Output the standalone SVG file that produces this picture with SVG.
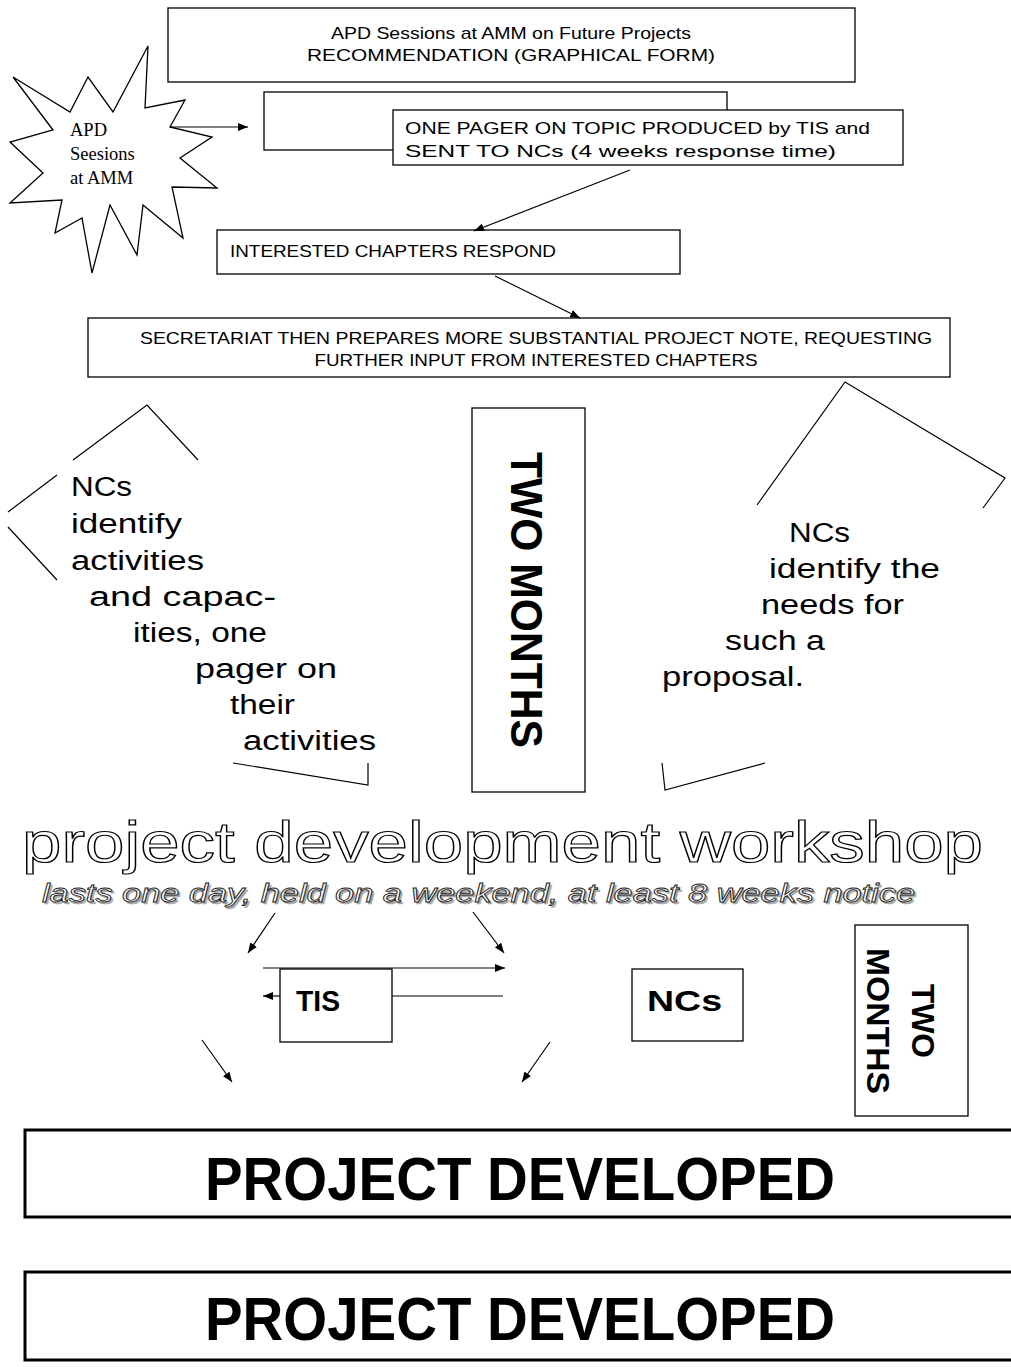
<svg xmlns="http://www.w3.org/2000/svg" width="1011" height="1367" viewBox="0 0 1011 1367">
<style>
.box{fill:#fff;stroke:#000;stroke-width:1.3}
.thick{fill:#fff;stroke:#000;stroke-width:3}
.t{font-family:"Liberation Sans",Arial,sans-serif;fill:#000}
.ln{fill:none;stroke:#000;stroke-width:1.2}
.con{fill:none;stroke:#000;stroke-width:1.2}
.b{font-family:"Liberation Sans",Arial,sans-serif;font-weight:bold;fill:#000}
</style>
<defs>
<marker id="ah" viewBox="0 0 10 8" refX="10" refY="4" markerWidth="10" markerHeight="8" markerUnits="userSpaceOnUse" orient="auto">
<path d="M0,0 L10,4 L0,8 z" fill="#000"/>
</marker>
</defs>
<rect width="1011" height="1367" fill="#fff"/>

<g id="title">
<rect class="box" x="168" y="8" width="687" height="74"/>
<text class="t" x="511" y="39" font-size="17" text-anchor="middle" textLength="360" lengthAdjust="spacingAndGlyphs">APD Sessions at AMM on Future Projects</text>
<text class="t" x="511" y="61" font-size="17" text-anchor="middle" textLength="408" lengthAdjust="spacingAndGlyphs">RECOMMENDATION (GRAPHICAL FORM)</text>
</g>

<g id="star">
<polygon class="box" points="13,77 70,112 88,77 113,112 148,46 145,108 185,100 170,127 212,137 180,158 217,188 172,187 183,238 143,205 137,255 110,205 92,273 82,218 55,233 62,200 10,203 43,173 10,142 53,130"/>
<text font-family="'Liberation Serif','Times New Roman',serif" font-size="18.5" fill="#000">
<tspan x="70" y="136">APD</tspan>
<tspan x="70" y="160">Seesions</tspan>
<tspan x="70" y="184">at AMM</tspan>
</text>
</g>

<g id="box2">
<rect class="box" x="264" y="92" width="463" height="58"/>
</g>

<g id="onepager">
<rect class="box" x="393" y="110" width="510" height="55"/>
<text class="t" x="405" y="134" font-size="17" textLength="465" lengthAdjust="spacingAndGlyphs">ONE PAGER ON TOPIC PRODUCED by TIS and</text>
<text class="t" x="405" y="157" font-size="17" textLength="431" lengthAdjust="spacingAndGlyphs">SENT TO NCs (4 weeks response time)</text>
</g>

<g id="interested">
<rect class="box" x="217" y="230" width="463" height="44"/>
<text class="t" x="230" y="257" font-size="17" textLength="326" lengthAdjust="spacingAndGlyphs">INTERESTED CHAPTERS RESPOND</text>
</g>

<g id="secretariat">
<rect class="box" x="88" y="318" width="862" height="59"/>
<text class="t" x="536" y="344" font-size="17" text-anchor="middle" textLength="792" lengthAdjust="spacingAndGlyphs">SECRETARIAT THEN PREPARES MORE SUBSTANTIAL PROJECT NOTE, REQUESTING</text>
<text class="t" x="536" y="366" font-size="17" text-anchor="middle" textLength="443" lengthAdjust="spacingAndGlyphs">FURTHER INPUT FROM INTERESTED CHAPTERS</text>
</g>

<g id="left-note">
<polyline class="ln" points="73,460 147,405 198,460"/>
<line class="ln" x1="57" y1="475" x2="8" y2="512"/>
<line class="ln" x1="8" y1="527" x2="57" y2="580"/>
<polyline class="ln" points="233,763 368,785 368,763"/>
<g class="t" font-size="27">
<text x="71" y="496" textLength="61" lengthAdjust="spacingAndGlyphs">NCs</text>
<text x="71" y="533" textLength="111" lengthAdjust="spacingAndGlyphs">identify</text>
<text x="71" y="570" textLength="133" lengthAdjust="spacingAndGlyphs">activities</text>
<text x="89" y="606" textLength="187" lengthAdjust="spacingAndGlyphs">and capac-</text>
<text x="133" y="642" textLength="134" lengthAdjust="spacingAndGlyphs">ities, one</text>
<text x="195" y="678" textLength="142" lengthAdjust="spacingAndGlyphs">pager on</text>
<text x="230" y="714" textLength="65" lengthAdjust="spacingAndGlyphs">their</text>
<text x="243" y="750" textLength="133" lengthAdjust="spacingAndGlyphs">activities</text>
</g>
</g>

<g id="two-months">
<rect class="box" x="472" y="408" width="113" height="384"/>
<text class="b" transform="translate(511,600) rotate(90)" font-size="44" text-anchor="middle" textLength="296" lengthAdjust="spacingAndGlyphs">TWO MONTHS</text>
</g>

<g id="right-note">
<polyline class="ln" points="757,505 845,382 1005,478 983,508"/>
<polyline class="ln" points="662,763 665,790 765,763"/>
<g class="t" font-size="27">
<text x="789" y="542" textLength="61" lengthAdjust="spacingAndGlyphs">NCs</text>
<text x="769" y="578" textLength="171" lengthAdjust="spacingAndGlyphs">identify the</text>
<text x="761" y="614" textLength="143" lengthAdjust="spacingAndGlyphs">needs for</text>
<text x="725" y="650" textLength="100" lengthAdjust="spacingAndGlyphs">such a</text>
<text x="662" y="686" textLength="142" lengthAdjust="spacingAndGlyphs">proposal.</text>
</g>
</g>

<g id="workshop">
<text x="22" y="862" font-family="'Liberation Sans',Arial,sans-serif" font-size="57" fill="#fff" stroke="#000" stroke-width="1.2" textLength="961" lengthAdjust="spacingAndGlyphs">project development workshop</text>
<text x="44" y="904" font-family="'Liberation Sans',Arial,sans-serif" font-size="25" font-style="italic" fill="#aaa" stroke="#aaa" stroke-width="0.6" textLength="873" lengthAdjust="spacingAndGlyphs">lasts one day, held on a weekend,  at least 8 weeks notice</text>
<text x="42" y="902" font-family="'Liberation Sans',Arial,sans-serif" font-size="25" font-style="italic" fill="#fff" stroke="#222" stroke-width="0.8" textLength="873" lengthAdjust="spacingAndGlyphs">lasts one day, held on a weekend,  at least 8 weeks notice</text>
</g>

<g id="tis">
<rect class="box" x="280" y="969" width="112" height="73"/>
<text class="b" x="296" y="1011" font-size="30" textLength="44" lengthAdjust="spacingAndGlyphs">TIS</text>
</g>

<g id="ncs">
<rect class="box" x="632" y="969" width="111" height="72"/>
<text class="b" x="647" y="1011" font-size="30" textLength="75" lengthAdjust="spacingAndGlyphs">NCs</text>
</g>

<g id="two-months-2">
<rect class="box" x="855" y="925" width="113" height="191"/>
<text class="b" transform="translate(912,1021) rotate(90)" font-size="32" text-anchor="middle" textLength="74" lengthAdjust="spacingAndGlyphs">TWO</text>
<text class="b" transform="translate(867,1021) rotate(90)" font-size="32" text-anchor="middle" textLength="146" lengthAdjust="spacingAndGlyphs">MONTHS</text>
</g>

<g id="developed-1">
<rect class="thick" x="25" y="1130" width="995" height="87"/>
<text class="b" x="520" y="1200" font-size="62" text-anchor="middle" textLength="630" lengthAdjust="spacingAndGlyphs">PROJECT DEVELOPED</text>
</g>

<g id="developed-2">
<rect class="thick" x="25" y="1272" width="995" height="88"/>
<text class="b" x="520" y="1340" font-size="62" text-anchor="middle" textLength="630" lengthAdjust="spacingAndGlyphs">PROJECT DEVELOPED</text>
</g>

<g id="connectors">
<line class="con" x1="170" y1="127" x2="248" y2="127" marker-end="url(#ah)"/>
<line class="con" x1="630" y1="170" x2="474" y2="231" marker-end="url(#ah)"/>
<line class="con" x1="495" y1="276" x2="580" y2="318" marker-end="url(#ah)"/>
<line class="con" x1="275" y1="913" x2="248" y2="953" marker-end="url(#ah)"/>
<line class="con" x1="473" y1="912" x2="504" y2="953" marker-end="url(#ah)"/>
<line class="con" x1="263" y1="968" x2="505" y2="968" marker-end="url(#ah)"/>
<line class="con" x1="503" y1="996" x2="392" y2="996"/>
<line class="con" x1="280" y1="996" x2="263" y2="996" marker-end="url(#ah)"/>
<line class="con" x1="202" y1="1040" x2="232" y2="1082" marker-end="url(#ah)"/>
<line class="con" x1="550" y1="1042" x2="522" y2="1082" marker-end="url(#ah)"/>
</g>
</svg>
